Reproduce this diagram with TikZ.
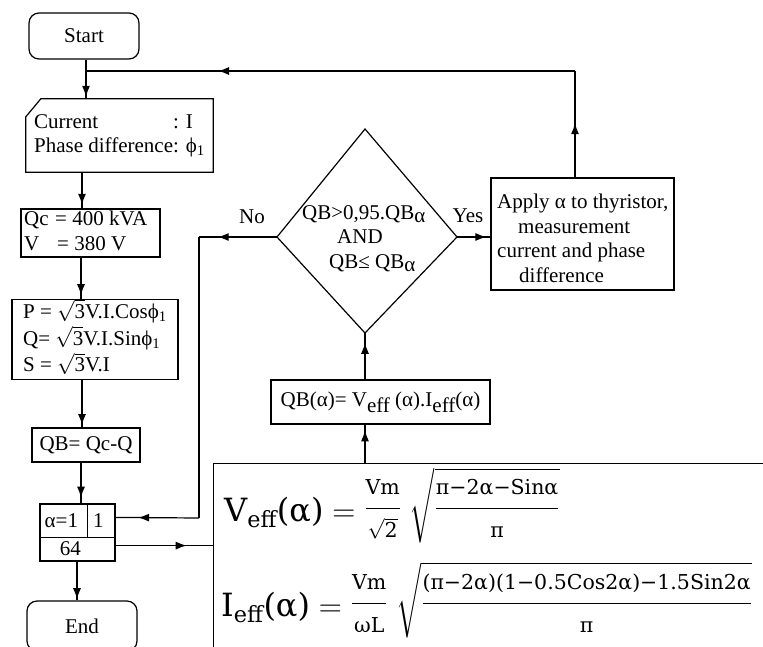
\RequirePackage{fix-cm}
\documentclass[tikz,border=0pt]{standalone}
\usepackage{amsmath}
\usepackage{fontspec}
\setmainfont{Liberation Serif}
\newfontfamily\eqf{DejaVu Serif}
\usetikzlibrary{arrows.meta,decorations.markings}
\newcommand\ef[1]{\text{\eqf #1}}
\newcommand\fr[1]{\text{\fontsize{20.5}{21}\selectfont\eqf #1}}
\newcommand\lsub[1]{\raisebox{-6pt}{#1}}
\newcommand\phsub{ϕ\textsubscript{1}}
\begin{document}
\begin{tikzpicture}[x=1pt,y=-1pt,
  every node/.style={font=\fontsize{21}{24.5}\selectfont, inner sep=0pt},
  box/.style={draw, line width=1.2pt},
  term/.style={draw, line width=1.2pt, rounded corners=10pt},
  conn/.style={line width=1.2pt},
  arrowat/.style={postaction={decorate}, decoration={markings, mark=at position #1 with {\arrow{Latex[length=11pt,width=8pt]}}}}
]
\useasboundingbox (0,0) rectangle (763,646);
\clip (0,0) rectangle (763,646);

% column coordinates
\coordinate (colS) at (86,0);
\coordinate (colA) at (82,0);
\coordinate (colB) at (81,0);
\coordinate (colE) at (77,0);
\coordinate (colR) at (575,0);

% Start / End
\node[term, minimum width=110pt, minimum height=46pt] (start) at (84,36) {Start};
\node[term, minimum width=110pt, minimum height=50pt] (end) at (82,626) {End};

% input box (manual input shape)
\node[minimum width=187pt, minimum height=73pt] (inp) at (119.5,135.5)
  {\begin{tabular}{@{}l@{}l@{}}Current & : I\\ Phase difference & : \phsub\end{tabular}};
\draw[conn] ([xshift=15pt]inp.north west) -- (inp.north east) -- (inp.south east)
  -- (inp.south west) -- ([yshift=-18pt]inp.north west) -- cycle;

% Qc box
\node[box, minimum width=139pt, minimum height=48pt] (qc) at (90.5,233) {};
\node[anchor=west] (qctxt) at (24,233)
  {\begin{tabular}{@{}l@{}}\makebox[31pt][l]{Qc}= 400 kVA\\ \makebox[33pt][l]{V}= 380 V\end{tabular}};

% P Q S box
\node[box, minimum width=166pt, minimum height=75pt, font=\fontsize{21}{25}\selectfont] (pqs) at (95,339.5)
  {\begin{tabular}{@{}l@{}}P = $\sqrt{\text{3}}$V.I.Cos\phsub\\ Q= $\sqrt{\text{3}}$V.I.Sin\phsub\\ S = $\sqrt{\text{3}}$V.I\end{tabular}};

% QB box
\node[box, minimum width=108pt, minimum height=34pt] (qb) at (86,445) {QB= Qc-Q};

% alpha loop box
\node[box, minimum width=75pt, minimum height=57pt] (alpha) at (77.5,532.5) {};
\draw[conn] ([yshift=-34pt]alpha.north west) -- ([yshift=-34pt]alpha.north east);
\draw[conn] ([xshift=48pt]alpha.north west) -- ([xshift=48pt,yshift=-34pt]alpha.north west);
\node (alA) at ([xshift=22pt,yshift=-17pt]alpha.north west) {α=1};
\node (alB) at ([xshift=59pt,yshift=-17pt]alpha.north west) {1};
\node (alC) at ([xshift=31pt,yshift=-45.5pt]alpha.north west) {64};

% decision diamond
\coordinate (dtop) at (365,129);
\coordinate (dleft) at (277,237);
\coordinate (dright) at (457,237);
\coordinate (dbot) at (365,333);
\draw[conn] (dtop) -- (dright) -- (dbot) -- (dleft) -- cycle;
\node[anchor=west, align=left] (dectxt) at (302,238.5)
  {QB>0,95.QB\raisebox{-3pt}{α}\\ \hspace*{35pt}AND\\ \hspace*{27pt}QB≤ QB\raisebox{-3pt}{α}};
\node (nolbl) at (252,217) {No};
\node (yeslbl) at (468,216) {Yes};

% apply box
\node[box, minimum width=183pt, minimum height=112pt] (apply) at (582.5,234) {};
\node[anchor=west, align=left] (applytxt) at (497,238.5)
  {Apply α to thyristor,\\ \hspace*{21pt}measurement\\ current and phase\\ \hspace*{22pt}difference};

% QB(alpha) box
\node[box, minimum width=219pt, minimum height=44pt] (qba) at (380.5,402)
  {QB(α)= V\lsub{eff} (α).I\lsub{eff}(α)};

% formula box
\node[box, anchor=north west, minimum width=600pt, minimum height=250pt] (formula) at (213,463) {};
\node[anchor=base west, font=\fontsize{32}{38}\selectfont] (veff) at (224,521)
  {$\ef{V}_{\ef{eff}}\ef{(α)} = \raisebox{5pt}{$\displaystyle\frac{\fr{Vm}}{\fr{$\sqrt{\text{\eqf 2}}$}}\;\sqrt{\frac{\fr{π−2α−Sinα}}{\fr{π}}}$}$};
\node[anchor=base west, font=\fontsize{32}{38}\selectfont] (ieff) at (221,616)
  {$\ef{I}_{\ef{eff}}\ef{(α)} = \raisebox{5pt}{$\displaystyle\frac{\fr{Vm}}{\fr{ωL}}\;\sqrt{\frac{\fr{(π−2α)(1−0.5Cos2α)−1.5Sin2α}}{\fr{π}}}$}$};

% coordinates for connectors
\coordinate (fbturn) at (575,71);
\coordinate (fbjoin) at (86,71);
\coordinate (nocA) at (199,237);
\coordinate (nocB) at (199,518);
\coordinate (r1) at ([yshift=-14pt]alpha.north east);
\coordinate (r64) at ([yshift=16pt]alpha.south east);

% connectors
\draw[conn, arrowat=0.95] (start.south -| colS) -- (inp.north -| colS);
\draw[conn, arrowat=0.51] (apply.north -| colR) -- (fbturn);
\draw[conn, arrowat=0.73] (fbturn) -- (fbjoin);
\draw[conn, arrowat=0.9] (inp.south -| colA) -- (qc.north -| colA);
\draw[conn, arrowat=0.91] (qc.south -| colB) -- (pqs.north -| colB);
\draw[conn, arrowat=0.95] (pqs.south -| colA) -- (qb.north -| colA);
\draw[conn, arrowat=0.86] (qb.south -| colB) -- (alpha.north -| colB);
\draw[conn, arrowat=0.97] (alpha.south -| colE) -- (end.north -| colE);
\draw[conn, arrowat=0.76] (dleft) -- (nocA);
\draw[conn] (nocA) -- (nocB);
\draw[conn, arrowat=0.73] (nocB) -- (r1 -| alpha.east);
\draw[conn, arrowat=0.73] (r64) -- (r64 -| formula.west);
\draw[conn, arrowat=0.85] (dbot |- formula.north) -- (dbot |- qba.south);
\draw[conn, arrowat=0.79] (dbot |- qba.north) -- (dbot);
\draw[conn, arrowat=0.88] (dright) -- (apply.west |- dright);
\end{tikzpicture}
\end{document}
